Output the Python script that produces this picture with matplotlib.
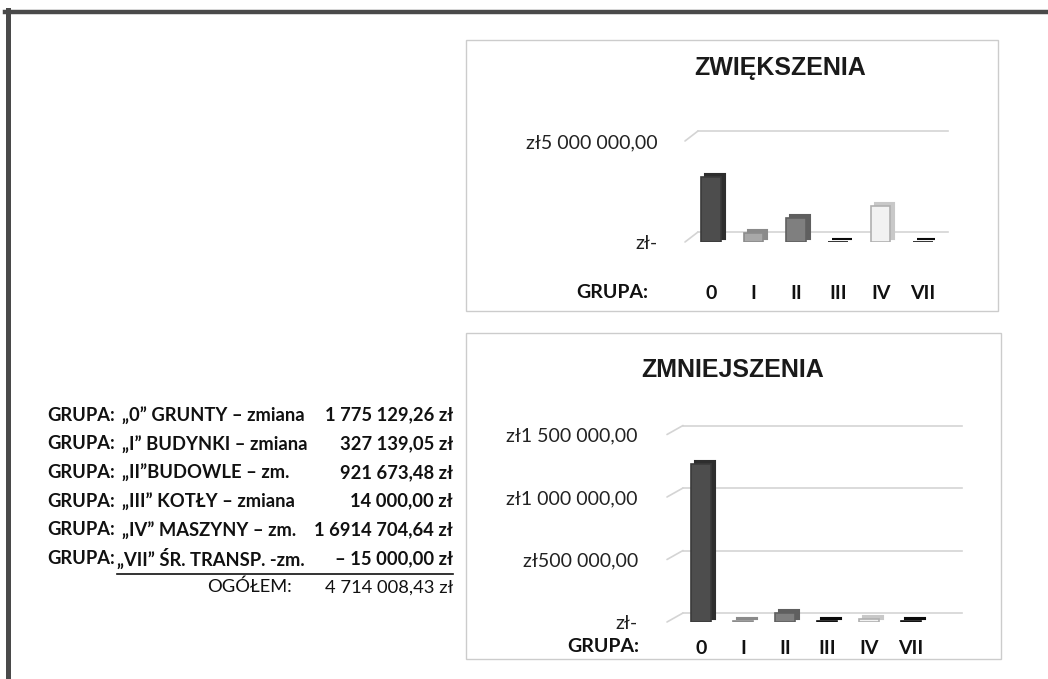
import matplotlib
matplotlib.use("Agg")
import matplotlib.pyplot as plt
from matplotlib.patches import Rectangle
from matplotlib.lines import Line2D
from matplotlib.transforms import ScaledTranslation, blended_transform_factory

# ---------------- data ----------------
categories = ["0", "I", "II", "III", "IV", "VII"]
inc_values = [3200000, 450000, 1190000, 20000, 1780000, 20000]
dec_values = [1264000, 5000, 70000, 6000, 25000, 8000]
inc_ticks = [0, 5000000]
inc_tick_labels = ["zł-", "zł5 000 000,00"]
dec_ticks = [0, 500000, 1000000, 1500000]
dec_tick_labels = ["zł-", "zł500 000,00", "zł1 000 000,00", "zł1 500 000,00"]
bar_colors = ["#4d4d4d", "#a8a8a8", "#7f7f7f", "#1c1c1c", "#f2f2f2", "#1c1c1c"]
bar_side = ["#2e2e2e", "#8a8a8a", "#5f5f5f", "#0a0a0a", "#c8c8c8", "#0a0a0a"]
bar_edges = ["#3a3a3a", "#8c8c8c", "#606060", "#111111", "#b0b0b0", "#111111"]

group_names = ["„0” GRUNTY – zmiana", "„I” BUDYNKI – zmiana", "„II”BUDOWLE – zm.",
               "„III” KOTŁY – zmiana", "„IV” MASZYNY – zm.", "„VII” ŚR. TRANSP. -zm."]
group_values = ["1 775 129,26 zł", "327 139,05 zł", "921 673,48 zł",
                "14 000,00 zł", "1 6914 704,64 zł", "– 15 000,00 zł"]
total_label = "OGÓŁEM:"
total_value = "4 714 008,43 zł"

W, H = 1048, 679
fig = plt.figure(figsize=(W / 100, H / 100), dpi=100)
fig.patch.set_facecolor("white")

SANS = ["Lato", "DejaVu Sans"]
ARIAL = ["Liberation Sans", "DejaVu Sans"]


def fx(x):
    return x / W


def fy(y):
    return 1 - y / H


def make_chart(left, right, top, bottom, x0px, step, ylim, values, ticks, tlabels,
               depth, ypad, xpad):
    ax = fig.add_axes([fx(left), fy(bottom), fx(right - left), (bottom - top) / H])
    ax.set_xlim((left - x0px) / step, (right - x0px) / step)
    ax.set_ylim(*ylim)
    for s in ax.spines.values():
        s.set_visible(False)
    ax.set_facecolor("none")
    ax.set_yticks(ticks)
    ax.set_yticklabels(tlabels, family=SANS, fontsize=14, color="#222222")
    ax.tick_params(axis="y", length=0, pad=ypad)
    x = list(range(len(categories)))
    ax.set_xticks(x)
    ax.set_xticklabels(categories, family=SANS, fontsize=14, fontweight="bold", color="#111111")
    ax.tick_params(axis="x", length=0, pad=xpad)
    dx, dy = depth
    blend = blended_transform_factory(ax.transAxes, ax.transData)
    back = blend + ScaledTranslation(dx / 100, dy / 100, fig.dpi_scale_trans)
    for v in ticks:
        ax.plot([0, 1], [v, v], color="#d4d4d4", lw=1.2, transform=back, clip_on=False, zorder=1)
        ax.annotate("", xy=(0, v), xycoords=blend, xytext=(dx, dy),
                    textcoords="offset pixels",
                    arrowprops=dict(arrowstyle="-", color="#d4d4d4", lw=1.2,
                                    shrinkA=0, shrinkB=0), zorder=1)
    off = ax.transData + ScaledTranslation(4 / 100, 3 / 100, fig.dpi_scale_trans)
    ax.bar(x, values, width=0.46, color=bar_side, edgecolor=bar_side, linewidth=1.5,
           transform=off, zorder=2)
    ax.bar(x, values, width=0.46, color=bar_colors, edgecolor=bar_edges, linewidth=1.2,
           zorder=3)
    return ax


# Chart 1: ZWIĘKSZENIA
make_chart(685, 935, 141, 242, 711, 42.4, (0, 5000000), inc_values, inc_ticks,
           inc_tick_labels, (13, 10), 20, 31)
# Chart 2: ZMNIEJSZENIA
make_chart(667, 946, 434.5, 622, 701, 42.0, (0, 1500000), dec_values, dec_ticks,
           dec_tick_labels, (16, 9), 21, 13)

fig.text(fx(780), fy(68), "ZWIĘKSZENIA", family=ARIAL, fontsize=18, fontweight="bold",
         ha="center", va="center", color="#1a1a1a")
fig.text(fx(733), fy(370), "ZMNIEJSZENIA", family=ARIAL, fontsize=18, fontweight="bold",
         ha="center", va="center", color="#1a1a1a")
fig.text(fx(612), fy(292), "GRUPA:", family=SANS, fontsize=14, fontweight="bold",
         ha="center", va="center", color="#111111")
fig.text(fx(603), fy(647), "GRUPA:", family=SANS, fontsize=14, fontweight="bold",
         ha="center", va="center", color="#111111")

# chart boxes
fig.add_artist(Rectangle((fx(466), fy(311)), fx(998 - 466), (311 - 40) / H,
                         transform=fig.transFigure, fill=False, edgecolor="#cccccc", lw=1))
fig.add_artist(Rectangle((fx(466), fy(659)), fx(1001 - 466), (659 - 333) / H,
                         transform=fig.transFigure, fill=False, edgecolor="#cccccc", lw=1))

# page frame
fig.add_artist(Line2D([fx(5), 1], [fy(12), fy(12)], color="#4a4a4a", lw=3.2,
                      transform=fig.transFigure))
fig.add_artist(Line2D([fx(7.5), fx(7.5)], [fy(10), 0], color="#4a4a4a", lw=3.6,
                      transform=fig.transFigure))

# left text block
FS = 13.2
y0, dyl = 415, 28.7
for i, (name, val) in enumerate(zip(group_names, group_values)):
    y = y0 + i * dyl
    fig.text(fx(47), fy(y), "GRUPA:", family=SANS, fontsize=FS, fontweight="bold",
             ha="left", va="center", color="#111111")
    fig.text(fx(122 if i < 5 else 117), fy(y), name, family=SANS, fontsize=FS,
             fontweight="bold", ha="left", va="center", color="#111111")
    fig.text(fx(453), fy(y), val, family=SANS, fontsize=FS, fontweight="bold",
             ha="right", va="center", color="#111111")
yt = y0 + 6 * dyl
fig.text(fx(207), fy(yt), total_label, family=SANS, fontsize=FS,
         ha="left", va="center", color="#111111")
fig.text(fx(453), fy(yt), total_value, family=SANS, fontsize=FS,
         ha="right", va="center", color="#111111")
fig.add_artist(Line2D([fx(117), fx(453)], [fy(574), fy(574)], color="#111111", lw=1.2,
                      transform=fig.transFigure))

fig.savefig("out.png", dpi=100, facecolor="white")
